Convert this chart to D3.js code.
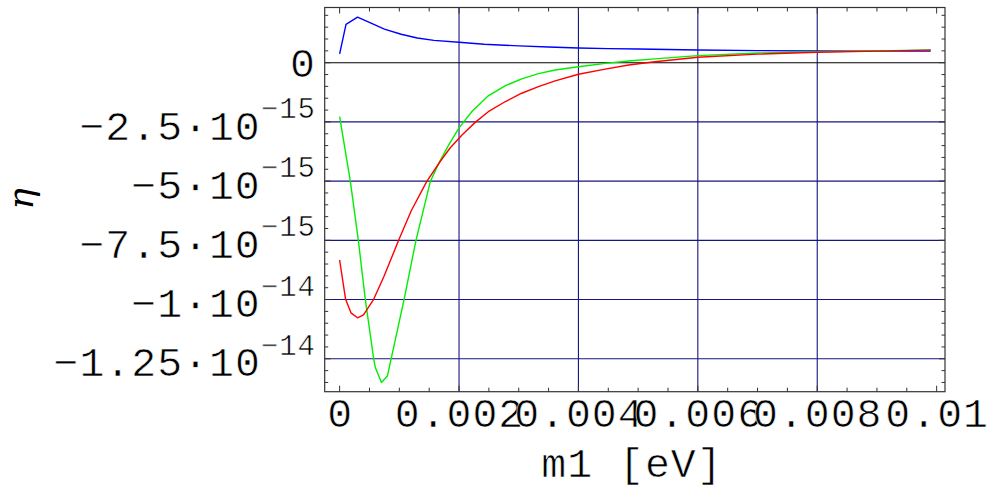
<!DOCTYPE html>
<html><head><meta charset="utf-8">
<script src="https://cdn.jsdelivr.net/npm/d3@7"></script>
<style>
html,body{margin:0;padding:0;background:#fff;}
svg{display:block;}
text{font-family:"Liberation Mono",monospace;fill:#000;stroke:#fff;stroke-width:0.6px;paint-order:normal;}
</style></head>
<body>
<svg id="chart" width="990" height="494"></svg>
<script>
// ---- data (eta in units of 1e-15) ----
const blueM1  = [0, 0.000107, 0.0003, 0.00047, 0.00075, 0.00103, 0.0013, 0.00158, 0.002, 0.00242, 0.003, 0.0035, 0.004, 0.0045, 0.005, 0.006, 0.007, 0.008, 0.009, 0.0099];
const blueEta = [0.37, 1.62, 1.92, 1.73, 1.42, 1.20, 1.04, 0.94, 0.86, 0.78, 0.71, 0.66, 0.62, 0.595, 0.575, 0.536, 0.51, 0.494, 0.49, 0.49];

const redM1  = [0, 0.0001, 0.00019, 0.0003, 0.0004, 0.00057, 0.00074, 0.00099, 0.0012, 0.00146, 0.00169, 0.00185, 0.00205, 0.00227, 0.00249, 0.00277, 0.00305, 0.00333, 0.00361, 0.004, 0.00445, 0.00484, 0.00528, 0.006, 0.007, 0.008, 0.009, 0.0099];
const redEta = [-8.33, -9.99, -10.56, -10.77, -10.65, -9.99, -9.04, -7.49, -6.25, -5.01, -4.15, -3.6, -3.05, -2.52, -2.07, -1.65, -1.29, -1.01, -0.77, -0.49, -0.27, -0.10, 0.04, 0.23, 0.36, 0.44, 0.49, 0.53];

const greenM1  = [0, 0.000179, 0.000313, 0.00043, 0.00057, 0.0006, 0.0007, 0.0008, 0.00108, 0.00128, 0.00152, 0.00168, 0.00184, 0.002, 0.00222, 0.00249, 0.00277, 0.00305, 0.00333, 0.00361, 0.004, 0.00445, 0.00484, 0.00528, 0.006, 0.007, 0.008, 0.009, 0.0099];
const greenEta = [-2.28, -5.0, -7.49, -9.99, -12.5, -12.88, -13.5, -13.23, -9.99, -7.49, -5.01, -4.15, -3.42, -2.75, -2.05, -1.40, -0.98, -0.68, -0.46, -0.31, -0.17, -0.03, 0.07, 0.16, 0.3, 0.41, 0.46, 0.50, 0.536];

const xTickValues = [0, 0.002, 0.004, 0.006, 0.008, 0.01];
const xTickLabels = ["0", "0.002", "0.004", "0.006", "0.008", "0.01"];
const yTickValues = [0, -2.5, -5, -7.5, -10, -12.5];
const yTickMant   = ["0", "\u22122.5\u221910", "\u22125\u221910", "\u22127.5\u221910", "\u22121\u221910", "\u22121.25\u221910"];
const yTickExp    = ["", "\u221215", "\u221215", "\u221215", "\u221214", "\u221214"];
const xTitle = "m1 [eV]";
const yTitle = "\u03b7";

// ---- layout ----
const L = 324.7, R = 945, T = 7.5, B = 391.7;
const x = d3.scaleLinear().domain([-0.00025, 0.01014]).range([L, R]);
const y = d3.scaleLinear().domain([-13.89, 2.33]).range([B, T]);

const svg = d3.select("#chart");
const gridColor = "#16167f";

// grid lines
svg.append("g").selectAll("line").data(xTickValues.filter(v => v > 0 && v < 0.0099)).join("line")
  .attr("x1", d => x(d)).attr("x2", d => x(d)).attr("y1", T).attr("y2", B)
  .attr("stroke", gridColor).attr("stroke-width", 1.1);
svg.append("g").selectAll("line").data(yTickValues).join("line")
  .attr("x1", L).attr("x2", R).attr("y1", d => y(d)).attr("y2", d => y(d))
  .attr("stroke", d => d === 0 ? "#000" : gridColor).attr("stroke-width", 1.1);

// minor / major ticks (inward) on all four sides
const xMinor = d3.range(0, 0.01001, 0.0005);
const yMinor = d3.range(-13.5, 2.01, 0.5);
const tickG = svg.append("g").attr("stroke", "#333").attr("stroke-width", 1);
const isMajX = v => Math.abs(v / 0.002 - Math.round(v / 0.002)) < 1e-6;
const isMajY = v => Math.abs(v / 2.5 - Math.round(v / 2.5)) < 1e-6;
tickG.selectAll(".xb").data(xMinor).join("line")
  .attr("x1", d => x(d)).attr("x2", d => x(d)).attr("y1", B).attr("y2", d => B - (isMajX(d) ? 6 : 4));
tickG.selectAll(".xt").data(xMinor).join("line")
  .attr("x1", d => x(d)).attr("x2", d => x(d)).attr("y1", T).attr("y2", d => T + (isMajX(d) ? 6 : 4));
tickG.selectAll(".yl").data(yMinor).join("line")
  .attr("y1", d => y(d)).attr("y2", d => y(d)).attr("x1", L).attr("x2", d => L + (isMajY(d) ? 6 : 3.5));
tickG.selectAll(".yr").data(yMinor).join("line")
  .attr("y1", d => y(d)).attr("y2", d => y(d)).attr("x1", R).attr("x2", d => R - (isMajY(d) ? 6 : 3.5));

// frame
svg.append("rect").attr("x", L).attr("y", T).attr("width", R - L).attr("height", B - T)
  .attr("fill", "none").attr("stroke", "#333").attr("stroke-width", 1.2);

// curves
const line = d3.line().x(d => x(d[0])).y(d => y(d[1]));
const series = [
  {m: blueM1, e: blueEta, c: "#0000ff"},
  {m: greenM1, e: greenEta, c: "#00ee00"},
  {m: redM1, e: redEta, c: "#ff0000"}
];
series.forEach(s => {
  svg.append("path").datum(s.m.map((v, i) => [v, s.e[i]]))
    .attr("d", line).attr("fill", "none").attr("stroke", s.c).attr("stroke-width", 1.4)
    .attr("stroke-linejoin", "round");
});

// x tick labels
svg.append("g").selectAll("text").data(xTickValues).join("text")
  .attr("x", d => x(d) + 0.5).attr("y", 426.7).attr("text-anchor", "middle")
  .attr("font-size", 41.5).attr("letter-spacing", 1).text((d, i) => xTickLabels[i]);

// y tick labels
const yl = svg.append("g").selectAll("text").data(yTickValues).join("text")
  .attr("x", 316).attr("y", d => y(d) + (d === 0 ? 14 : 17.7)).attr("text-anchor", "end")
  .attr("font-size", 41.5).attr("letter-spacing", 1);
yl.append("tspan").text((d, i) => yTickMant[i]);
yl.append("tspan").attr("dy", -21.7).attr("font-size", 29).text((d, i) => yTickExp[i]);

// axis titles
svg.append("text").attr("x", 632).attr("y", 476.7).attr("text-anchor", "middle")
  .attr("font-size", 41.5).attr("letter-spacing", 1).text(xTitle);
svg.append("text").attr("transform", "translate(33,199) rotate(-90)").attr("text-anchor", "middle")
  .style("font-family", "'DejaVu Serif',serif").style("font-style", "italic").style("stroke", "none")
  .attr("font-size", 36).text(yTitle);
</script>
</body></html>
